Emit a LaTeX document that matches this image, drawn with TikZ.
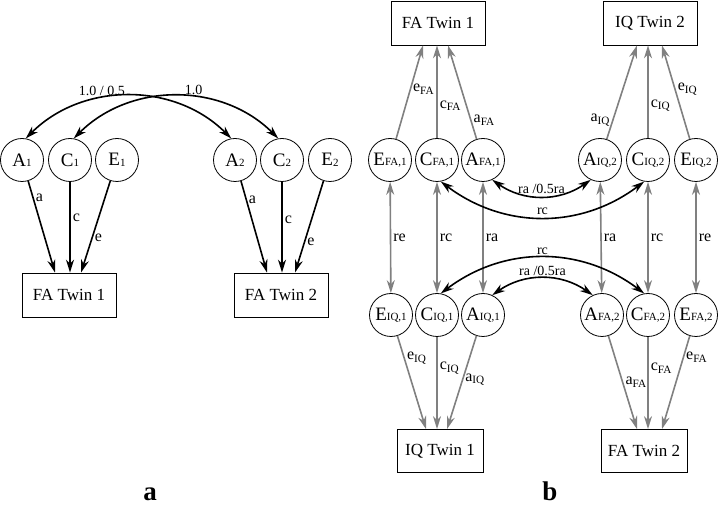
\documentclass[tikz,border=0pt]{standalone}
\usepackage{fontspec}
\setmainfont{Liberation Serif}
\usetikzlibrary{arrows.meta,calc}
\newcommand\latnm[2]{#1{\fontsize{11}{11}\selectfont\raisebox{-0.5pt}{#2}}}
\tikzset{
    latent/.style={draw, circle, line width=0.8pt, minimum size=43pt, inner sep=0pt,
        font=\fontsize{19}{19}\selectfont},
    observed/.style={draw, rectangle, line width=0.8pt, minimum width=94pt, minimum height=44pt,
        inner sep=0pt, font=\fontsize{17}{17}\selectfont},
    small box/.style={observed, minimum width=86pt, minimum height=43pt},
    loading/.style={line width=1.6pt, -{Stealth[length=13pt,width=8pt]}},
    gloading/.style={loading, gray},
    twoway/.style={line width=1.6pt, {Stealth[length=13pt,width=8pt]}-{Stealth[length=13pt,width=8pt]}},
    gtwoway/.style={twoway, gray},
    coef/.style={font=\fontsize{16}{16}\selectfont, inner sep=2pt},
    corr/.style={font=\fontsize{14}{14}\selectfont, inner sep=2pt},
    panel/.style={font=\fontsize{27}{27}\selectfont\bfseries, anchor=south, inner sep=0pt},
}

\begin{document}
\begin{tikzpicture}[x=1pt,y=1pt]
\useasboundingbox (0,0) rectangle (720,508);

% panel a
\node[latent] (A1) at (22,348) {\latnm{A}{1}};
\node[latent] (C1) at (70,348) {\latnm{C}{1}};
\node[latent] (E1) at (117,348) {\latnm{E}{1}};
\node[latent] (A2) at (235,348) {\latnm{A}{2}};
\node[latent] (C2) at (282,348) {\latnm{C}{2}};
\node[latent] (E2) at (330,348) {\latnm{E}{2}};
\node[observed] (fa1a) at (69,213) {FA Twin 1};
\node[observed] (fa2a) at (281,213) {FA Twin 2};

\draw[loading] (A1) -- ($(fa1a.north)+(-14,0)$) node[coef, pos=.18, right] {a};
\draw[loading] (C1) -- (C1 |- fa1a.north) node[coef, pos=.4, right] {c};
\draw[loading] (E1) -- ($(fa1a.north)+(12,0)$) node[coef, pos=.62, right] {e};
\draw[loading] (A2) -- ($(fa2a.north)+(-14,0)$) node[coef, pos=.2, right] {a};
\draw[loading] (C2) -- (C2 |- fa2a.north) node[coef, pos=.42, right] {c};
\draw[loading] (E2) -- ($(fa2a.north)+(14,0)$) node[coef, pos=.66, right] {e};

\draw[twoway] (A1.80) to[out=45,in=135] node[corr, pos=.38, above] {1.0 / 0.5} (A2.100);
\draw[twoway] (C1.80) to[out=45,in=135] node[corr, pos=.58, above] {1.0} (C2.100);

% panel b
\node[latent] (EF1) at (390,348) {\latnm{E}{FA,1}};
\node[latent] (CF1) at (437,348) {\latnm{C}{FA,1}};
\node[latent] (AF1) at (483,348) {\latnm{A}{FA,1}};
\node[latent] (AI2) at (600,348) {\latnm{A}{IQ,2}};
\node[latent] (CI2) at (648,348) {\latnm{C}{IQ,2}};
\node[latent] (EI2) at (696,348) {\latnm{E}{IQ,2}};
\node[latent] (EI1) at (391,193) {\latnm{E}{IQ,1}};
\node[latent] (CI1) at (437,193) {\latnm{C}{IQ,1}};
\node[latent] (AI1) at (483,193) {\latnm{A}{IQ,1}};
\node[latent] (AF2) at (602,193) {\latnm{A}{FA,2}};
\node[latent] (CF2) at (648,193) {\latnm{C}{FA,2}};
\node[latent] (EF2) at (696,193) {\latnm{E}{FA,2}};
\node[observed] (fa1b) at (438,485) {FA Twin 1};
\node[observed] (iq2b) at (650,485) {IQ Twin 2};
\node[small box] (iq1b) at (440,57) {IQ Twin 1};
\node[small box] (fa2b) at (644,57) {FA Twin 2};

\draw[gloading] (EF1) -- ($(CF1 |- fa1b.south)+(-14,0)$) node[coef, black, pos=.53, right] {e\textsubscript{FA}};
\draw[gloading] (CF1) -- (CF1 |- fa1b.south) node[coef, black, pos=.35, right] {c\textsubscript{FA}};
\draw[gloading] (AF1) -- ($(CF1 |- fa1b.south)+(11,0)$) node[coef, black, pos=.2, right] {a\textsubscript{FA}};
\draw[gloading] (AI2) -- ($(CI2 |- iq2b.south)+(-11,0)$) node[coef, black, pos=.2, left] {a\textsubscript{IQ}};
\draw[gloading] (CI2) -- (CI2 |- iq2b.south) node[coef, black, pos=.35, right] {c\textsubscript{IQ}};
\draw[gloading] (EI2) -- ($(CI2 |- iq2b.south)+(14,0)$) node[coef, black, pos=.53, right] {e\textsubscript{IQ}};

\draw[gloading] (EI1) -- ($(CI1 |- iq1b.north)+(-11,0)$) node[coef, black, pos=.24, right] {e\textsubscript{IQ}};
\draw[gloading] (CI1) -- (CI1 |- iq1b.north) node[coef, black, pos=.34, right] {c\textsubscript{IQ}};
\draw[gloading] (AI1) -- ($(CI1 |- iq1b.north)+(10,0)$) node[coef, black, pos=.47, right] {a\textsubscript{IQ}};
\draw[gloading] (AF2) -- ($(CF2 |- fa2b.north)+(-11,0)$) node[coef, black, pos=.5, right] {a\textsubscript{FA}};
\draw[gloading] (CF2) -- (CF2 |- fa2b.north) node[coef, black, pos=.34, right] {c\textsubscript{FA}};
\draw[gloading] (EF2) -- ($(CF2 |- fa2b.north)+(14,0)$) node[coef, black, pos=.23, right] {e\textsubscript{FA}};

\draw[gtwoway] (EF1) -- (EI1) node[coef, black, midway, right] {re};
\draw[gtwoway] (CF1) -- (CI1) node[coef, black, midway, right] {rc};
\draw[gtwoway] (AF1) -- (AI1) node[coef, black, midway, right] {ra};
\draw[gtwoway] (AI2) -- (AF2) node[coef, black, midway, right] {ra};
\draw[gtwoway] (CI2) -- (CF2) node[coef, black, midway, right] {rc};
\draw[gtwoway] (EI2) -- (EF2) node[coef, black, midway, right] {re};

\draw[twoway] (AF1.-65) to[out=-35,in=-145] node[corr, above] {ra /0.5ra} (AI2.-115);
\draw[twoway] (CF1.-80) to[out=-37,in=-143] node[corr, above] {rc} (CI2.-100);
\draw[twoway] (CI1.80) to[out=37,in=143] node[corr, above] {rc} (CF2.100);
\draw[twoway] (AI1.65) to[out=35,in=145] node[corr, above] {ra /0.5ra} (AF2.115);

\node[panel] (pa) at (150,7) {a};
\node[panel] (pb) at (550,7) {b};
\end{tikzpicture}
\end{document}
